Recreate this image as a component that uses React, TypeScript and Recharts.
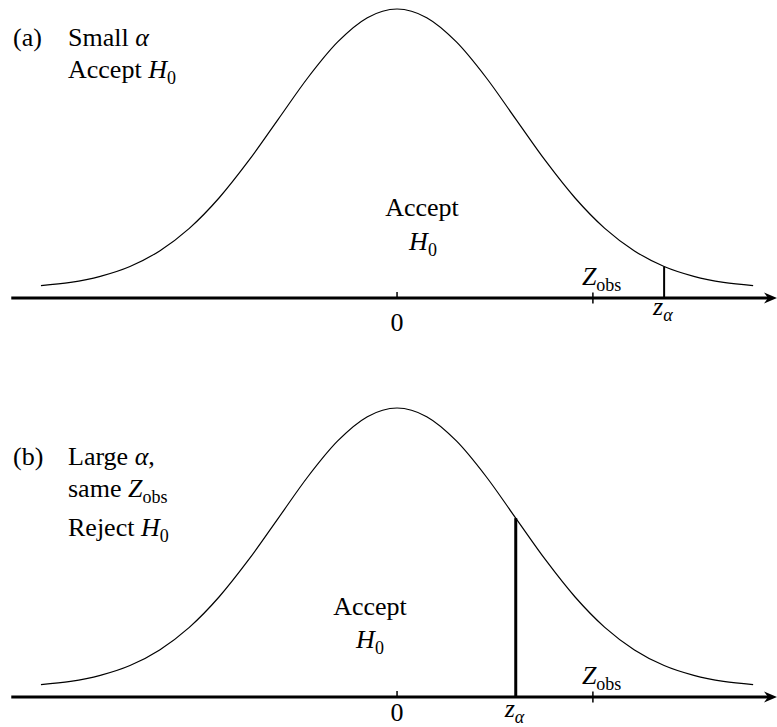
import React from 'react'
import { ComposedChart, Line, XAxis, YAxis, ReferenceLine } from 'recharts'

// curve: height above the axis, peak = 1
const zValues = [
  -3, -2.75, -2.5, -2.25, -2, -1.75, -1.5, -1.25, -1, -0.75, -0.5, -0.25, 0,
  0.25, 0.5, 0.75, 1, 1.25, 1.5, 1.75, 2, 2.25, 2.5, 2.75, 3,
]
const curveHeights = [
  0.043, 0.054, 0.075, 0.109, 0.163, 0.241, 0.346, 0.475, 0.619, 0.763, 0.886, 0.97, 1,
  0.97, 0.886, 0.763, 0.619, 0.475, 0.346, 0.241, 0.163, 0.109, 0.075, 0.054, 0.043,
]
const zAlphaValues = [2.25, 1.0]
const zObsValues = [1.65, 1.65]
const panelTags = ['(a)', '(b)']

const curve = zValues.map((z, i) => ({ z, h: curveHeights[i] }))

const W = 777
const H = 399
const X_DOMAIN: [number, number] = [-3.345, 3.201]
const FONT = "'Liberation Serif', 'DejaVu Serif', 'Noto Serif', 'Times New Roman', Times, FreeSerif, serif"
const FS = 26
const SUB = 18
const txtStyle = { fontFamily: FONT }

function heightAt(z: number) {
  const i = zValues.indexOf(z)
  return i >= 0 ? curveHeights[i] : 0
}

function ArrowAxis(props: any) {
  const { x1, y1, x2, y2 } = props
  return (
    <g>
      <line x1={x1} y1={y1} x2={x2 - 8} y2={y2} stroke="#000" strokeWidth={3} />
      <path d={`M${x2},${y2} L${x2 - 13},${y2 - 5.5} L${x2 - 9},${y2} L${x2 - 13},${y2 + 5.5} Z`} fill="#000" />
    </g>
  )
}

function Sub({ x, y, main, sub, anchor = 'start', italicSub = false }: any) {
  return (
    <text x={x} y={y} style={txtStyle} fontSize={FS} textAnchor={anchor} fill="#000">
      <tspan fontStyle="italic">{main}</tspan>
      <tspan fontSize={SUB} dy={6} fontStyle={italicSub ? 'italic' : 'normal'}>{sub}</tspan>
    </text>
  )
}

interface PanelProps {
  idx: number
  zeroDy: number
  alphaDy: number
  alphaWidth: number
}

function Panel({ idx, zeroDy, alphaDy, alphaWidth }: PanelProps) {
  const zA = zAlphaValues[idx]
  const zO = zObsValues[idx]

  const renderTick = (p: any) => {
    const { x, y, payload } = p
    const v = payload.value
    if (v === 0) {
      return (
        <g>
          <line x1={x} y1={y} x2={x} y2={y - 6} stroke="#000" strokeWidth={1.5} />
          <text x={x} y={y + zeroDy} style={txtStyle} fontSize={FS} textAnchor="middle" fill="#000">0</text>
        </g>
      )
    }
    if (v === zO) {
      return (
        <g>
          <line x1={x} y1={y - 5.5} x2={x} y2={y + 5.5} stroke="#000" strokeWidth={1.5} />
          <Sub x={x - 11} y={y - 13} main="Z" sub="obs" />
        </g>
      )
    }
    if (v === zA) {
      return <Sub x={x - 11} y={y + alphaDy} main="z" sub="α" italicSub />
    }
    return <g />
  }

  return (
    <ComposedChart
      width={W}
      height={H}
      data={curve}
      margin={{ top: 9, right: 0, bottom: 71, left: 0 }}
    >
      <XAxis
        dataKey="z"
        type="number"
        domain={X_DOMAIN}
        allowDataOverflow
        ticks={[0, zA, zO]}
        interval={0}
        tick={renderTick}
        tickLine={false}
        axisLine={false}
        tickSize={0}
        tickMargin={0}
        height={30}
      />
      <YAxis hide type="number" domain={[0, 1]} width={0} />
      <Line
        dataKey="h"
        type="monotone"
        stroke="#000"
        strokeWidth={1.2}
        dot={false}
        isAnimationActive={false}
      />
      <ReferenceLine
        segment={[{ x: -3.25, y: 0 }, { x: X_DOMAIN[1], y: 0 }]}
        ifOverflow="visible"
        shape={ArrowAxis}
      />
      <ReferenceLine
        segment={[{ x: zA, y: 0 }, { x: zA, y: heightAt(zA) }]}
        ifOverflow="visible"
        stroke="#000"
        strokeWidth={alphaWidth}
      />
    </ComposedChart>
  )
}

function Txt({ x, y, children, anchor = 'start' }: any) {
  return (
    <text x={x} y={y} style={txtStyle} fontSize={FS} textAnchor={anchor} fill="#000">
      {children}
    </text>
  )
}

function H0({ x, y, anchor = 'start' }: any) {
  return <Sub x={x} y={y} main="H" sub="0" anchor={anchor} />
}

export default function App() {
  return (
    <div style={{ position: 'absolute', left: 0, top: 0, width: W, height: 727, overflow: 'hidden', background: '#fff', fontFamily: FONT }}>
      <div style={{ position: 'absolute', left: 0, top: 0 }}>
        <Panel idx={0} zeroDy={33} alphaDy={17} alphaWidth={2} />
        <svg width={W} height={H} style={{ position: 'absolute', left: 0, top: 0, pointerEvents: 'none' }}>
          <Txt x={13} y={46}>{panelTags[0]}</Txt>
          <Txt x={68} y={46}>
            Small <tspan fontStyle="italic">α</tspan>
          </Txt>
          <Txt x={68} y={78}>
            Accept <tspan fontStyle="italic">H</tspan><tspan fontSize={SUB} dy={6}>0</tspan>
          </Txt>
          <Txt x={422} y={216} anchor="middle">Accept</Txt>
          <H0 x={423} y={250} anchor="middle" />
        </svg>
      </div>
      <div style={{ position: 'absolute', left: 0, top: 399 }}>
        <Panel idx={1} zeroDy={24} alphaDy={20} alphaWidth={3} />
        <svg width={W} height={H} style={{ position: 'absolute', left: 0, top: 0, pointerEvents: 'none' }}>
          <Txt x={13} y={66}>{panelTags[1]}</Txt>
          <Txt x={68} y={66}>
            Large <tspan fontStyle="italic">α</tspan>,
          </Txt>
          <Txt x={68} y={98}>
            same <tspan fontStyle="italic">Z</tspan><tspan fontSize={SUB} dy={6}>obs</tspan>
          </Txt>
          <Txt x={68} y={137}>
            Reject <tspan fontStyle="italic">H</tspan><tspan fontSize={SUB} dy={6}>0</tspan>
          </Txt>
          <Txt x={370} y={216} anchor="middle">Accept</Txt>
          <H0 x={370} y={249} anchor="middle" />
        </svg>
      </div>
    </div>
  )
}
